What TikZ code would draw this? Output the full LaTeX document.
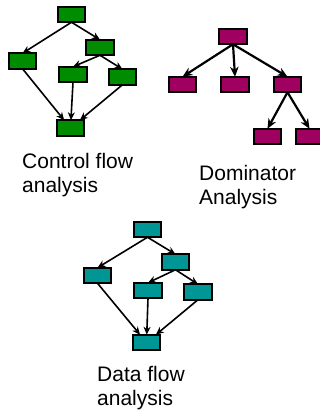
\documentclass[tikz,border=0pt]{standalone}
\usepackage{fontspec}
\setmainfont{Liberation Sans}
\usepackage{tikz}
\usetikzlibrary{arrows.meta}
\definecolor{cfgreen}{RGB}{0,140,0}
\definecolor{dommag}{RGB}{160,0,96}
\definecolor{dfteal}{RGB}{0,150,150}

\begin{document}
\begin{tikzpicture}[x=1pt, y=-1pt,
    blk/.style = {draw, line width=1.8pt, minimum width=27.5pt, minimum height=15.5pt, inner sep=0pt, outer sep=0pt},
    edge/.style = {-{Stealth[length=8pt,width=7pt]}, line width=1.6pt},
    thick edge/.style = {-{Stealth[length=10pt,width=8.5pt]}, line width=2.2pt},
    txt/.style = {align=left, anchor=north west, inner sep=0pt, font=\fontsize{21}{24}\selectfont}]
                    \useasboundingbox (0,0) rectangle (320,418);

                    % control flow graph
                    \node[blk, fill=cfgreen] (ca) at (71.5,14.5) {};
                    \node[blk, fill=cfgreen] (cb) at (22.5,61) {};
                    \node[blk, fill=cfgreen] (cc) at (100,47.5) {};
                    \node[blk, fill=cfgreen] (cd) at (73,74.5) {};
                    \node[blk, fill=cfgreen] (ce) at (122.5,77) {};
                    \node[blk, fill=cfgreen] (cf) at (70.5,128) {};

                    \draw[edge] (ca.south) -- (cb.north);
                    \draw[edge] (ca.south) -- (cc.north);
                    \draw[edge] (cc.south) -- (cd.north);
                    \draw[edge] (cc.south) -- (ce.north);
                    \draw[edge] (cb.south) -- (cf);
                    \draw[edge] (cd.south) -- (cf);
                    \draw[edge] (ce.south) -- (cf);

                    \node[txt] (ctext) at (22,153) {Control flow\\analysis};

                    % dominator tree
                    \node[blk, fill=dommag] (da) at (233,36.5) {};
                    \node[blk, fill=dommag] (db) at (182.5,84.5) {};
                    \node[blk, fill=dommag] (dc) at (235,84.5) {};
                    \node[blk, fill=dommag] (dd) at (287.5,84.5) {};
                    \node[blk, fill=dommag] (de) at (267.5,136.5) {};
                    \node[blk, fill=dommag] (df) at (309.5,136.5) {};

                    \draw[thick edge] (da.south) -- (db.north);
                    \draw[thick edge] (da.south) -- (dc.north);
                    \draw[thick edge] (da.south) -- (dd.north);
                    \draw[thick edge] (dd.south) -- (de.north);
                    \draw[thick edge] (dd.south) -- (df.north);

                    \node[txt] (dtext) at (199,165) {Dominator\\Analysis};

                    % data flow graph
                    \node[blk, fill=dfteal] (fa) at (147.5,229.5) {};
                    \node[blk, fill=dfteal] (fb) at (97.5,275.5) {};
                    \node[blk, fill=dfteal] (fc) at (175.5,262) {};
                    \node[blk, fill=dfteal] (fd) at (148,290.5) {};
                    \node[blk, fill=dfteal] (fe) at (198,292) {};
                    \node[blk, fill=dfteal] (ff) at (146.5,342.5) {};

                    \draw[edge] (fa.south) -- (fb.north);
                    \draw[edge] (fa.south) -- (fc.north);
                    \draw[edge] (fc.south) -- (fd.north);
                    \draw[edge] (fc.south) -- (fe.north);
                    \draw[edge] (fb.south) -- (ff);
                    \draw[edge] (fd.south) -- (ff);
                    \draw[edge] (fe.south) -- (ff);

                    \node[txt] (ftext) at (97,366) {Data flow\\analysis};
\end{tikzpicture}
\end{document}
